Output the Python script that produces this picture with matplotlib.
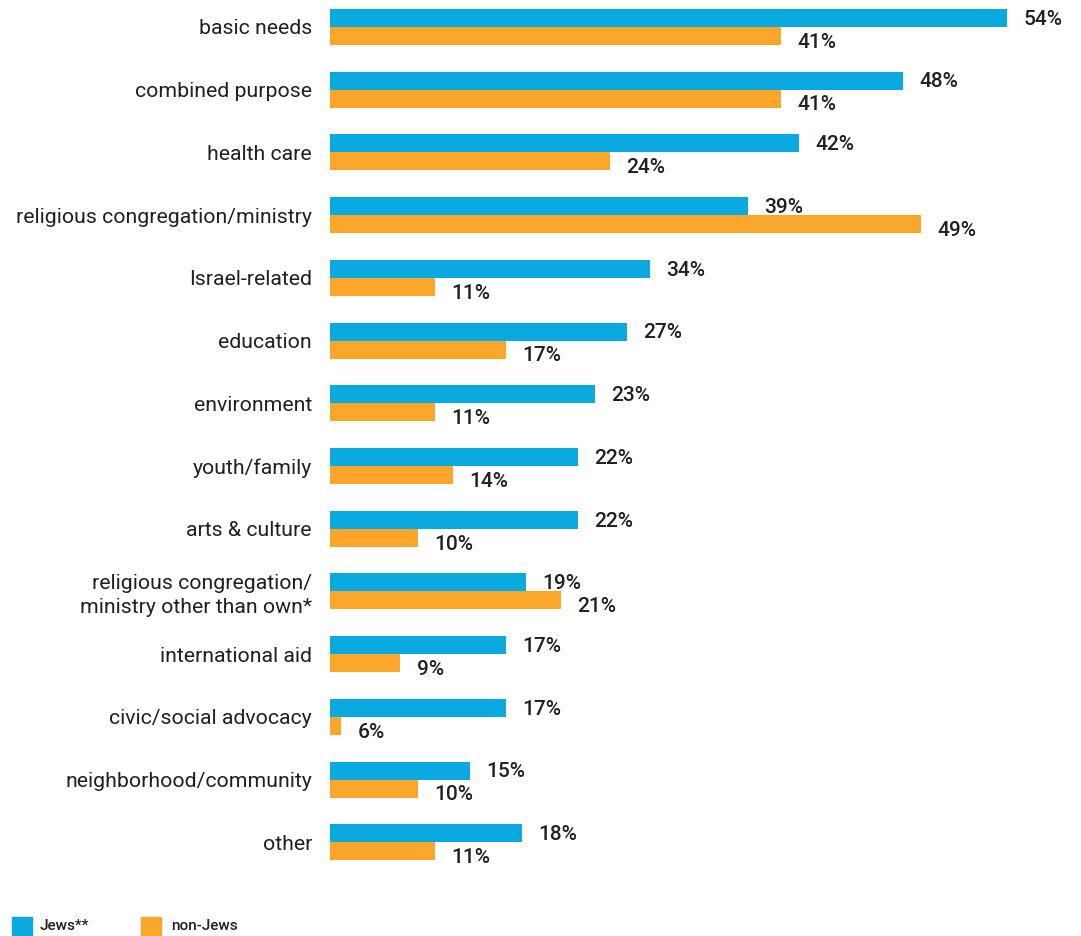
import matplotlib.pyplot as plt
import numpy as np

categories = ["basic needs", "combined purpose", "health care",
              "religious congregation/ministry", "Israel-related", "education",
              "environment", "youth/family", "arts & culture",
              "religious congregation/\nministry other than own*",
              "international aid", "civic/social advocacy",
              "neighborhood/community", "other"]

# printed values
jews_pct = [54, 48, 42, 39, 34, 27, 23, 22, 22, 19, 17, 17, 15, 18]
nonjews_pct = [41, 41, 24, 49, 11, 17, 11, 14, 10, 21, 9, 6, 10, 11]

# bar lengths as drawn in the picture (not proportional to the printed values)
jews_bar = [54.0, 45.7, 37.4, 33.3, 25.5, 23.7, 21.1, 19.8, 19.8, 15.6, 14.0, 14.0, 11.2, 15.3]
nonjews_bar = [36.0, 36.0, 22.3, 47.1, 8.4, 14.0, 8.4, 9.8, 7.0, 18.4, 5.6, 0.9, 7.0, 8.4]

blue = "#0aa9e0"
orange = "#f9a62b"
txt = "#231f20"

fig = plt.figure(figsize=(10.81, 9.36), dpi=100)
ax = fig.add_axes([330 / 1081, 56 / 936, 751 / 1081, 880 / 936])

y = np.arange(len(categories))
h = 0.287
ax.barh(y - h / 2, jews_bar, height=h, color=blue)
ax.barh(y + h / 2, nonjews_bar, height=h, color=orange)

num_font = dict(family=["Roboto", "DejaVu Sans"], fontsize=15,
                fontweight="medium", color=txt)
for i in range(len(categories)):
    ax.text(jews_bar[i] + 1.3, y[i] - h / 2 + 0.02, f"{jews_pct[i]}%", va="center", **num_font)
    ax.text(nonjews_bar[i] + 1.3, y[i] + h / 2 + 0.1, f"{nonjews_pct[i]}%", va="center", **num_font)

ax.set_xlim(0, 751 / 12.54)
ax.set_ylim(13.6, -0.43)
ax.set_yticks(y)
ax.set_yticklabels(categories, fontsize=15.3, color=txt, family=["Roboto", "DejaVu Sans"],
                   linespacing=1.3)
ax.tick_params(axis="y", length=0, pad=13)
ax.set_xticks([])
for s in ax.spines.values():
    s.set_visible(False)

# legend
fig.patches.append(plt.Rectangle((12 / 1081, 0), 20 / 1081, 19 / 936, color=blue,
                                 transform=fig.transFigure))
fig.text(40 / 1081, 10 / 936, "Jews**", fontsize=11, color=txt, va="center",
         family=["Roboto", "DejaVu Sans"], fontweight="medium")
fig.patches.append(plt.Rectangle((141 / 1081, 0), 20 / 1081, 19 / 936, color=orange,
                                 transform=fig.transFigure))
fig.text(171 / 1081, 10 / 936, "non-Jews", fontsize=11, color=txt, va="center",
         family=["Roboto", "DejaVu Sans"], fontweight="medium")

fig.savefig("out.png", dpi=100)
